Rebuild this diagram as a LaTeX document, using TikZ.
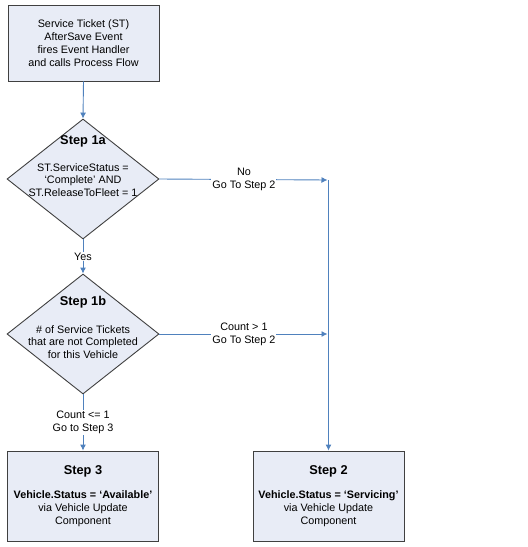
\documentclass[tikz,border=0pt]{standalone}
\usepackage{fontspec}
\setmainfont{Liberation Sans}
\usetikzlibrary{arrows.meta,shapes.geometric}
\definecolor{boxfill}{RGB}{232,236,246}
\definecolor{boxline}{RGB}{64,64,64}
\definecolor{flow}{RGB}{79,129,189}
\begin{document}
\begin{tikzpicture}[x=1pt,y=-1pt,
  every node/.style={font=\fontsize{10.8}{12.8}\selectfont},
  procbox/.style={draw=boxline,fill=boxfill,line width=0.9pt,minimum width=151pt,inner sep=0pt,align=center},
  decision/.style={diamond,draw=boxline,fill=boxfill,line width=0.9pt,minimum width=152pt,minimum height=120pt,inner sep=0pt,aspect=1.27},
  heading/.style={font=\fontsize{12.8}{15}\selectfont\bfseries},
  bodytext/.style={align=center,inner sep=0pt},
  flowline/.style={draw=flow,line width=0.9pt},
  flowarrow/.style={flowline,-{Latex[length=6pt,width=6pt]}},
  lbl/.style={fill=white,align=center,inner sep=1pt}]
\useasboundingbox (0,0) rectangle (528,547);
% nodes
\node[procbox,minimum height=76pt] (start) at (83.5,43) {Service Ticket (ST)\\AfterSave Event\\fires Event Handler\\and calls Process Flow};
\node[decision] (d1a) at (83,179) {};
\node[heading] (h1a) at (83,141) {Step 1a};
\node[bodytext] (t1a) at (83,180) {ST.ServiceStatus =\\‘Complete’ AND\\ST.ReleaseToFleet = 1};
\node[decision] (d1b) at (83,334) {};
\node[heading] (h1b) at (83,302) {Step 1b};
\node[bodytext] (t1b) at (83,342) {\# of Service Tickets\\that are not Completed\\for this Vehicle};
\node[procbox,minimum height=90pt] (s3) at (83,496) {{\fontsize{12.8}{15}\selectfont\bfseries Step 3}\\[12pt]\textbf{Vehicle.Status = ‘Available’}\\via Vehicle Update\\Component};
\node[procbox,minimum height=90pt] (s2) at (328.5,496) {{\fontsize{12.8}{15}\selectfont\bfseries Step 2}\\[12pt]\textbf{Vehicle.Status = ‘Servicing’}\\via Vehicle Update\\Component};
\coordinate (c1) at (328.5,180);
\coordinate (c2) at (328.5,334);
% connectors
\draw[flowarrow] (start.south) -- (d1a.north);
\draw[flowarrow] (d1a.south) -- node[lbl] (yes) {Yes} (d1b.north);
\draw[flowarrow] (d1b.south) -- node[lbl] (le1) {Count <= 1\\Go to Step 3} (s3.north);
\draw[flowarrow,shorten >=1pt] (d1a.east) -- node[lbl] (no) {No\\Go To Step 2} (c1);
\draw[flowarrow,shorten >=1pt] (d1b.east) -- node[lbl] (gt1) {Count > 1\\Go To Step 2} (c2);
\draw[flowarrow] (c1) -- (s2.north);
\end{tikzpicture}
\end{document}
